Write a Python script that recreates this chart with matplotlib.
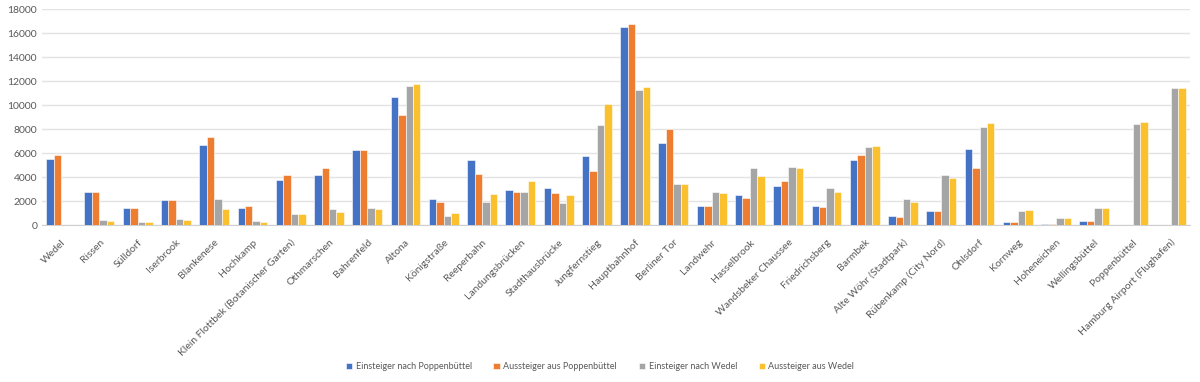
import numpy as np
import matplotlib
matplotlib.use("Agg")
import matplotlib.pyplot as plt

plt.rcParams['font.family'] = ['Lato', 'DejaVu Sans']

stations = ["Wedel", "Rissen", "Sülldorf", "Iserbrook", "Blankenese", "Hochkamp",
            "Klein Flottbek (Botanischer Garten)", "Othmarschen", "Bahrenfeld", "Altona",
            "Königstraße", "Reeperbahn", "Landungsbrücken", "Stadthausbrücke",
            "Jungfernstieg", "Hauptbahnhof", "Berliner Tor", "Landwehr", "Hasselbrook",
            "Wandsbeker Chaussee", "Friedrichsberg", "Barmbek", "Alte Wöhr (Stadtpark)",
            "Rübenkamp (City Nord)", "Ohlsdorf", "Kornweg", "Hoheneichen",
            "Wellingsbüttel", "Poppenbüttel", "Hamburg Airport (Flughafen)"]

ein_poppenbuettel = [5570, 2745, 1440, 2160, 6680, 1440, 3770, 4190, 6240, 10650,
                     2220, 5460, 2940, 3130, 5800, 16500, 6820, 1640, 2500, 3245,
                     1640, 5435, 805, 1190, 6350, 277, 140, 415, 0, 0]
aus_poppenbuettel = [5850, 2800, 1440, 2160, 7350, 1580, 4240, 4740, 6295, 9150,
                     1915, 4300, 2800, 2690, 4550, 16750, 8040, 1640, 2275, 3660,
                     1500, 5850, 720, 1190, 4800, 277, 140, 360, 0, 0]
ein_wedel = [0, 470, 305, 527, 2220, 360, 940, 1330, 1470, 11620,
             805, 1940, 2745, 1860, 8375, 11260, 3410, 2800, 4740, 4880,
             3080, 6545, 2220, 4240, 8180, 1190, 610, 1440, 8430, 11450]
aus_wedel = [0, 415, 305, 470, 1330, 305, 915, 1140, 1330, 11730,
             1080, 2630, 3660, 2500, 10090, 11510, 3410, 2690, 4100, 4800,
             2745, 6630, 1970, 3965, 8490, 1250, 610, 1440, 8625, 11450]

series = [ein_poppenbuettel, aus_poppenbuettel, ein_wedel, aus_wedel]
names = ["Einsteiger nach Poppenbüttel", "Aussteiger aus Poppenbüttel",
         "Einsteiger nach Wedel", "Aussteiger aus Wedel"]
colors = ["#4472C4", "#ED7D31", "#A5A5A5", "#FBC02D"]

fig = plt.figure(figsize=(12, 3.82), dpi=100)
ax = fig.add_axes([0.035, 0.4097, 0.9567, 0.5667])

x = np.arange(len(stations))
w = 0.195
for i, (vals, name, c) in enumerate(zip(series, names, colors)):
    ax.bar(x + (i - 1.5) * w, vals, w, color=c, edgecolor="white", linewidth=0.4,
           label=name, zorder=3)

ax.set_xlim(-0.5, len(stations) - 0.5)
ax.set_ylim(0, 18000)
ax.set_yticks(np.arange(0, 18001, 2000))
ax.yaxis.grid(True, color="#E3E3E3", linewidth=1.0, zorder=0)
ax.set_axisbelow(True)
for s in ["top", "right", "left"]:
    ax.spines[s].set_visible(False)
ax.spines["bottom"].set_color("#D0D0D0")
ax.tick_params(axis="both", length=0, colors="#595959", labelsize=7.5)
ax.tick_params(axis="x", pad=11)
ax.set_xticks(x + 0.08)
ax.set_xticklabels(stations, rotation=45, ha="right", va="center",
                   rotation_mode="anchor")

fig.legend(loc="center", bbox_to_anchor=(0.5, 0.04), ncol=4, frameon=False,
           fontsize=6.5, handlelength=0.7, handleheight=0.7, handletextpad=0.4,
           columnspacing=2.4, labelcolor="#595959")

fig.savefig("out.png", dpi=100)
